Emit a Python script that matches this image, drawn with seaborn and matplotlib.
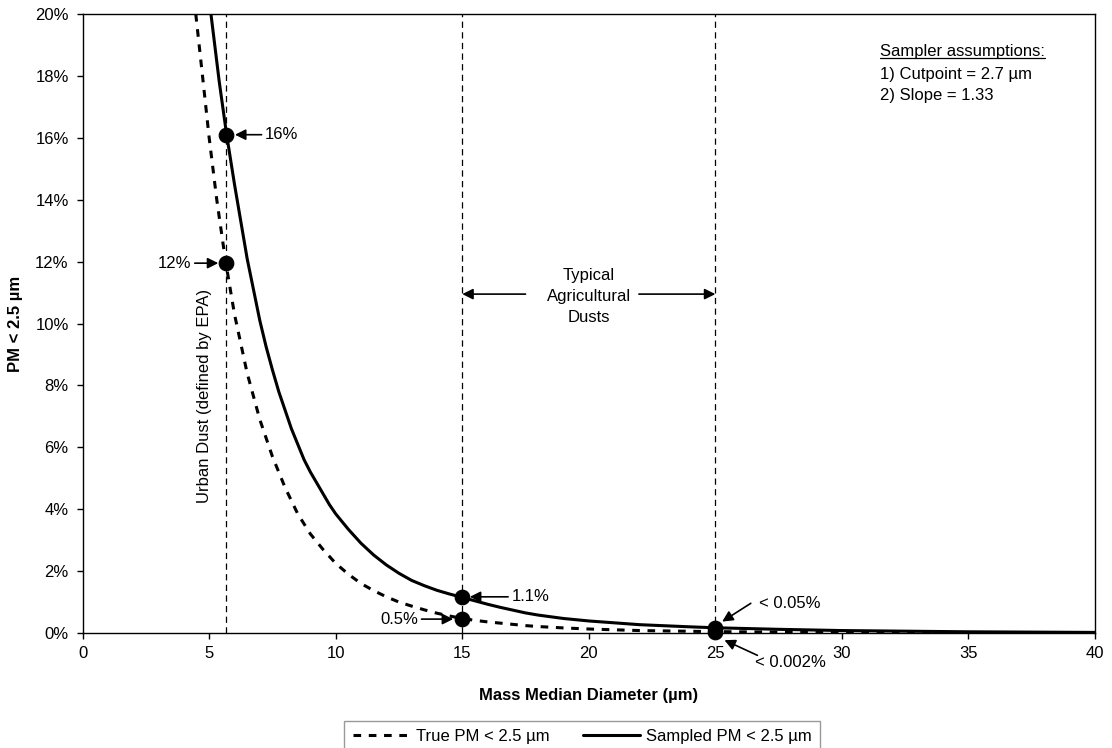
import matplotlib
matplotlib.use("Agg")
import matplotlib.pyplot as plt
import seaborn as sns
import pandas as pd
from matplotlib.ticker import FuncFormatter

# ---- data ----
true_mmd = [4.47, 4.75, 5.0, 5.3, 5.65, 6.0, 6.5, 7.0, 7.5, 8.0, 8.5, 9.0, 9.5, 10.0,
            10.5, 11.0, 11.5, 12.0, 12.5, 13.0, 13.5, 14.0, 14.5, 15.0, 15.5, 16.0,
            16.5, 17.0, 17.5, 18.0, 19.0, 20.0, 22.0, 25.0, 30.0, 35.0, 40.0]
true_pct = [20.0, 17.9, 16.0, 14.0, 12.0, 10.3, 8.4, 6.9, 5.7, 4.7, 3.85, 3.2, 2.7, 2.25,
            1.9, 1.6, 1.37, 1.17, 1.0, 0.87, 0.75, 0.64, 0.55, 0.47, 0.41, 0.36,
            0.32, 0.28, 0.24, 0.21, 0.165, 0.13, 0.08, 0.045, 0.015, 0.006, 0.003]

samp_mmd = [5.07, 5.4, 5.69, 6.0, 6.5, 7.0, 7.25, 7.5, 7.75, 8.0, 8.25, 8.5, 8.75, 9.0,
            9.25, 9.5, 9.75, 10.0, 10.5, 11.0, 11.5, 12.0, 12.5, 13.0, 13.5, 14.0, 14.5,
            15.0, 15.5, 16.0, 16.5, 17.0, 17.5, 18.0, 19.0, 20.0, 22.0, 24.0, 25.0,
            27.5, 30.0, 35.0, 40.0]
samp_pct = [20.0, 17.8, 16.1, 14.5, 12.1, 10.1, 9.25, 8.5, 7.8, 7.2, 6.6, 6.1, 5.6, 5.2,
            4.85, 4.5, 4.15, 3.85, 3.35, 2.9, 2.52, 2.2, 1.93, 1.7, 1.53, 1.38, 1.26,
            1.15, 1.04, 0.93, 0.83, 0.74, 0.65, 0.58, 0.47, 0.39, 0.27, 0.2, 0.17,
            0.12, 0.08, 0.04, 0.02]

marker_x = [5.65, 5.65, 15.0, 15.0, 25.0, 25.0]
marker_y = [16.1, 11.95, 1.17, 0.45, 0.17, 0.045]

ref_lines = [5.65, 15.0, 25.0]

x_ticks = [0, 5, 10, 15, 20, 25, 30, 35, 40]
y_ticks = [0, 2, 4, 6, 8, 10, 12, 14, 16, 18, 20]

true_label = "True PM < 2.5 µm"
samp_label = "Sampled PM < 2.5 µm"

FS = 12

# ---- style ----
sns.set_theme(style="white")
plt.rcParams["font.family"] = ["Liberation Sans", "DejaVu Sans"]
plt.rcParams["font.size"] = FS
plt.rcParams["text.color"] = "black"
plt.rcParams["axes.labelcolor"] = "black"

fig = plt.figure(figsize=(11.12, 7.48), dpi=100)
ax = fig.add_axes([0.0743, 0.1537, 0.9104, 0.8276])

df_true = pd.DataFrame({"mmd": true_mmd, "pct": true_pct})
df_samp = pd.DataFrame({"mmd": samp_mmd, "pct": samp_pct})
df_pts = pd.DataFrame({"x": marker_x, "y": marker_y})

for xv in ref_lines:
    ax.axvline(xv, color="black", lw=0.9, ls=(0, (5, 3.5)), zorder=1)

sns.lineplot(data=df_true, x="mmd", y="pct", ax=ax, color="black", lw=2.2,
             linestyle=(0, (2.5, 2.5)), label=true_label, sort=False, zorder=3)
sns.lineplot(data=df_samp, x="mmd", y="pct", ax=ax, color="black", lw=2.2,
             label=samp_label, sort=False, zorder=4)
sns.scatterplot(data=df_pts, x="x", y="y", ax=ax, color="black", s=110,
                edgecolor="black", zorder=5, legend=False, clip_on=False)

ax.set_xlim(0, 40)
ax.set_ylim(0, 20)
ax.set_xticks(x_ticks)
ax.set_yticks(y_ticks)
ax.yaxis.set_major_formatter(FuncFormatter(lambda v, p: f"{v:.0f}%"))
ax.tick_params(axis="both", direction="out", length=4, width=1, colors="black",
               labelsize=FS, bottom=True, left=True)
ax.tick_params(axis="y", pad=6)
ax.tick_params(axis="x", pad=5)
for sp in ax.spines.values():
    sp.set_color("black")
    sp.set_linewidth(1.0)

ax.set_xlabel("Mass Median Diameter (µm)", fontsize=FS, fontweight="bold", labelpad=20)
ax.set_ylabel("PM < 2.5 µm", fontsize=FS, fontweight="bold", labelpad=9)

# ---- annotations ----
ap = dict(arrowstyle="-|>", color="black", lw=1.2, mutation_scale=16,
          shrinkA=0, shrinkB=0)

ax.annotate("16%", xy=(6.02, 16.1), xytext=(7.2, 16.1), ha="left", va="center",
            fontsize=FS, arrowprops=ap)
ax.annotate("12%", xy=(5.36, 11.95), xytext=(4.3, 11.95), ha="right", va="center",
            fontsize=FS, arrowprops=ap)
ax.annotate("1.1%", xy=(15.3, 1.17), xytext=(16.94, 1.17), ha="left", va="center",
            fontsize=FS, arrowprops=ap)
ax.annotate("0.5%", xy=(14.64, 0.45), xytext=(13.26, 0.45), ha="right", va="center",
            fontsize=FS, arrowprops=ap)
ax.annotate("", xy=(25.27, 0.37), xytext=(26.4, 0.96), arrowprops=ap)
ax.text(26.71, 0.96, "< 0.05%", ha="left", va="center", fontsize=FS)
ax.annotate("", xy=(25.36, -0.23), xytext=(26.66, -0.72), arrowprops=ap,
            annotation_clip=False)
ax.text(26.55, -0.95, "< 0.002%", ha="left", va="center", fontsize=FS, clip_on=False)

# Typical agricultural dusts
ax.text(20.0, 10.87, "Typical\nAgricultural\nDusts", ha="center", va="center",
        fontsize=FS, linespacing=1.5)
ax.annotate("", xy=(15.0, 10.95), xytext=(17.5, 10.95), arrowprops=ap)
ax.annotate("", xy=(25.0, 10.95), xytext=(21.98, 10.95), arrowprops=ap)

ax.text(4.83, 7.66, "Urban Dust (defined by EPA)", rotation=90, ha="center",
        va="center", fontsize=FS)

t = ax.text(31.5, 18.78, "Sampler assumptions:", ha="left", va="center", fontsize=FS)
ax.text(31.5, 18.03, "1) Cutpoint = 2.7 µm", ha="left", va="center", fontsize=FS)
ax.text(31.5, 17.38, "2) Slope = 1.33", ha="left", va="center", fontsize=FS)
# underline for the heading
fig.canvas.draw()
bb = t.get_window_extent().transformed(ax.transData.inverted())
ax.plot([bb.x0, bb.x1], [bb.y0 + 0.05, bb.y0 + 0.05], color="black", lw=0.9, clip_on=False)

# ---- legend ----
handles, labels = ax.get_legend_handles_labels()
ax.get_legend().remove()
leg = fig.legend(handles, labels, loc="upper center", bbox_to_anchor=(0.5238, 0.0365),
                 ncol=2, frameon=True, fancybox=False, edgecolor="#808080",
                 fontsize=FS, handlelength=3.4, columnspacing=2.0, handletextpad=0.4,
                 borderpad=0.5, borderaxespad=0)
leg.get_frame().set_linewidth(1.0)

fig.savefig("out.png", dpi=100)
